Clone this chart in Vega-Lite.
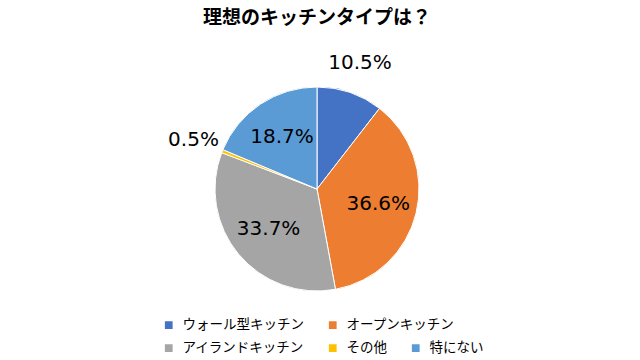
{
  "$schema": "https://vega.github.io/schema/vega-lite/v6.json",
  "autosize": "none",
  "width": 634,
  "height": 318,
  "padding": {"left": 0, "top": 30, "right": 0, "bottom": 12},
  "background": "white",
  "title": {
    "text": "理想のキッチンタイプは？",
    "font": "Noto Sans CJK JP",
    "fontSize": 19,
    "fontWeight": "bold",
    "color": "#000000",
    "anchor": "middle",
    "offset": 2
  },
  "config": {"view": {"stroke": null}},
  "data": {
    "values": [
      {"type": "ウォール型キッチン", "pct": 10.5, "order": 1, "label": "10.5%"},
      {"type": "オープンキッチン", "pct": 36.6, "order": 2, "label": "36.6%"},
      {"type": "アイランドキッチン", "pct": 33.7, "order": 3, "label": "33.7%"},
      {"type": "その他", "pct": 0.5, "order": 4, "label": "0.5%"},
      {"type": "特にない", "pct": 18.7, "order": 5, "label": "18.7%"}
    ]
  },
  "resolve": {"scale": {"color": "independent"}, "legend": {"color": "independent"}},
  "layer": [
    {
      "mark": {"type": "arc", "outerRadius": 102, "stroke": "white", "strokeWidth": 1},
      "encoding": {
        "theta": {"field": "pct", "type": "quantitative", "stack": true},
        "order": {"field": "order", "type": "quantitative"},
        "color": {
          "field": "type",
          "type": "nominal",
          "scale": {
            "domain": ["ウォール型キッチン", "オープンキッチン", "アイランドキッチン", "その他", "特にない"],
            "range": ["#4472C4", "#ED7D31", "#A5A5A5", "#FFC000", "#5B9BD5"]
          },
          "legend": {
            "values": ["ウォール型キッチン", "オープンキッチン"],
            "title": null,
            "orient": "none",
            "direction": "horizontal",
            "legendX": 162,
            "legendY": 288,
            "padding": 0,
            "symbolType": "square",
            "symbolSize": 60,
            "symbolStrokeWidth": 0,
            "labelFont": "Noto Sans CJK JP",
            "labelFontSize": 13.5,
            "labelColor": "#000000",
            "labelOffset": 7,
            "columnPadding": 22,
            "labelLimit": 300
          }
        }
      }
    },
    {
      "mark": {"type": "arc", "outerRadius": 102, "stroke": "white", "strokeWidth": 1},
      "encoding": {
        "theta": {"field": "pct", "type": "quantitative", "stack": true},
        "order": {"field": "order", "type": "quantitative"},
        "color": {
          "field": "type",
          "type": "nominal",
          "scale": {
            "domain": ["ウォール型キッチン", "オープンキッチン", "アイランドキッチン", "その他", "特にない"],
            "range": ["#4472C4", "#ED7D31", "#A5A5A5", "#FFC000", "#5B9BD5"]
          },
          "legend": {
            "values": ["アイランドキッチン", "その他", "特にない"],
            "title": null,
            "orient": "none",
            "direction": "horizontal",
            "legendX": 162,
            "legendY": 311,
            "padding": 0,
            "symbolType": "square",
            "symbolSize": 60,
            "symbolStrokeWidth": 0,
            "labelFont": "Noto Sans CJK JP",
            "labelFontSize": 13.5,
            "labelColor": "#000000",
            "labelOffset": 7,
            "columnPadding": 22,
            "labelLimit": 300
          }
        }
      }
    },
    {
      "mark": {"type": "text", "radius": 63, "font": "DejaVu Sans", "fontSize": 20, "color": "#000000"},
      "encoding": {
        "theta": {"field": "pct", "type": "quantitative", "stack": true},
        "order": {"field": "order", "type": "quantitative"},
        "text": {"condition": {"test": "datum.pct < 15", "value": ""}, "field": "label", "type": "nominal"}
      }
    },
    {
      "mark": {"type": "text", "radius": 133, "font": "DejaVu Sans", "fontSize": 20, "color": "#000000"},
      "encoding": {
        "theta": {"field": "pct", "type": "quantitative", "stack": true},
        "order": {"field": "order", "type": "quantitative"},
        "text": {"condition": {"test": "datum.pct >= 15", "value": ""}, "field": "label", "type": "nominal"}
      }
    }
  ]
}
